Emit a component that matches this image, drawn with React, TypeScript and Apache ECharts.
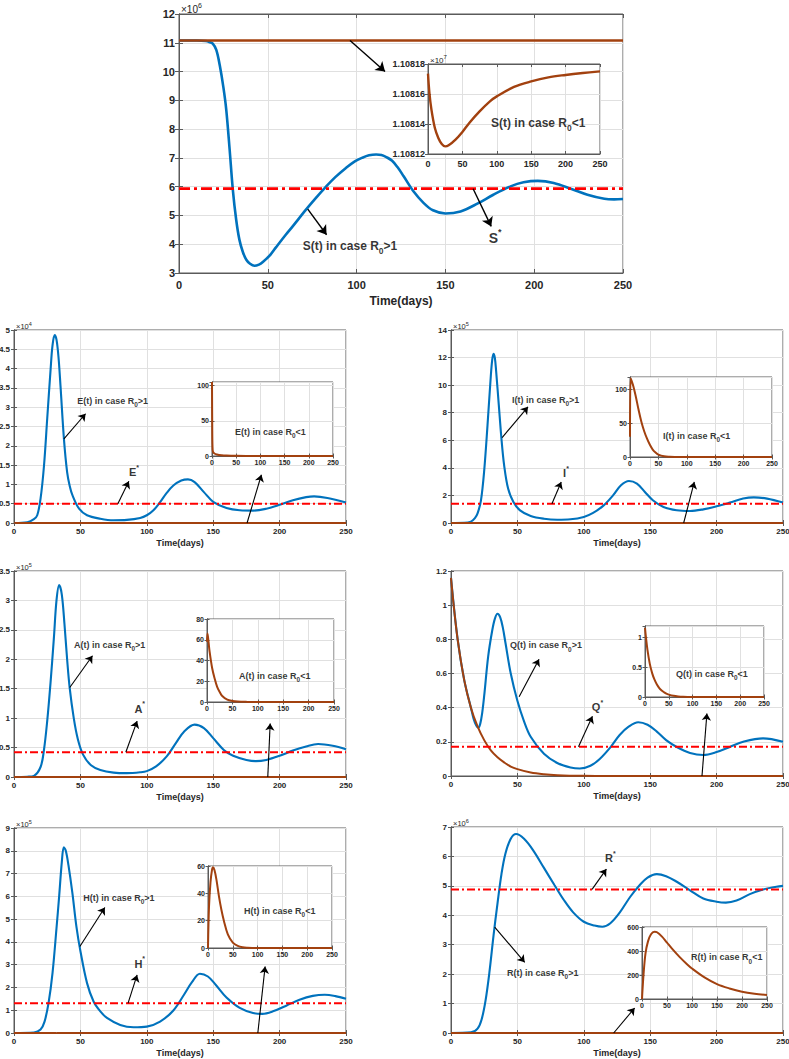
import React, { useEffect, useRef } from "react";
import * as echarts from "echarts";

type Pt = [number, number];

// ---------------- data ----------------
const dayTicks = [0, 50, 100, 150, 200, 250];

// S(t)
const sHigh: Pt[] = [[0, 11.08e6], [10, 11.078e6], [15, 11.06e6], [17, 11.03e6], [19, 10.97e6], [21, 10.75e6], [23, 10.2e6], [25, 9.45e6], [26.6, 8.68e6], [28.5, 7.3e6], [30.3, 5.9e6], [32.2, 4.85e6], [34, 4.16e6], [36, 3.72e6], [38, 3.45e6], [40, 3.32e6], [42.5, 3.25e6], [45, 3.29e6], [47.2, 3.38e6], [51, 3.6e6], [54.7, 3.9e6], [60, 4.32e6], [64, 4.62e6], [71.5, 5.2e6], [77, 5.6e6], [82.8, 6.0e6], [88, 6.33e6], [94, 6.65e6], [99, 6.88e6], [103, 7.0e6], [107, 7.09e6], [111, 7.12e6], [114, 7.1e6], [117, 7.02e6], [120, 6.9e6], [123, 6.68e6], [126.5, 6.36e6], [132, 5.84e6], [137.8, 5.43e6], [143, 5.18e6], [150, 5.07e6], [158.5, 5.14e6], [168, 5.41e6], [177, 5.72e6], [186.7, 6.01e6], [194, 6.15e6], [202, 6.2e6], [211, 6.13e6], [221, 5.92e6], [230, 5.72e6], [239.5, 5.58e6], [245, 5.56e6], [250, 5.57e6]];
const sLow: Pt[] = [[0, 11081736], [2, 11081610], [5, 11081496], [10, 11081373], [15, 11081307], [20, 11081267], [25, 11081251], [30, 11081258], [40, 11081296], [50, 11081347], [60, 11081407], [75, 11081484], [90, 11081551], [100, 11081584], [125, 11081647], [150, 11081684], [175, 11081711], [200, 11081727], [225, 11081740], [250, 11081751]];
const sStar = 5.93e6;

// E(t)
const eHigh: Pt[] = [[0, 0], [10, 200], [15, 1000], [17.5, 2000], [20, 6300], [22.6, 14900], [25, 27000], [27.6, 40000], [29, 46000], [30.6, 48700], [32, 47500], [33.5, 43000], [35, 35600], [37.6, 21800], [40, 13200], [42, 9500], [44, 7200], [49, 3700], [55, 2000], [65, 1100], [75, 700], [85, 800], [95, 1300], [100, 2000], [105, 3300], [110, 5400], [115, 7800], [120, 9700], [126, 11000], [131, 11300], [136, 10600], [143, 8000], [150, 5500], [160, 3900], [170, 3300], [180, 3200], [190, 3700], [200, 4700], [210, 5900], [220, 6700], [226, 6900], [236, 6500], [250, 5300]];
const eLow: Pt[] = [[0, 105], [0.5, 40], [1, 15], [2, 6], [5, 3.5], [10, 2.2], [20, 1.1], [30, 0.6], [50, 0.2], [75, 0.05], [100, 0], [250, 0]];
const eStar = 5000;

// I(t)
const iHigh: Pt[] = [[0, 0], [10, 1000], [15, 10000], [18, 35000], [20, 70000], [22.5, 160000], [25, 380000], [27.5, 710000], [30, 1070000], [31, 1180000], [32, 1228000], [33, 1200000], [34, 1100000], [36, 855000], [38, 610000], [40, 420000], [43, 250000], [47, 153000], [52, 92000], [60, 51000], [70, 31000], [80, 24000], [90, 27000], [100, 44000], [107, 73000], [115, 128000], [122, 200000], [128, 274000], [134, 305000], [140, 286000], [146, 225000], [152, 165000], [160, 116000], [170, 92000], [180, 87000], [190, 99000], [200, 121000], [210, 148000], [220, 177000], [228, 186000], [238, 177000], [250, 148000]];
const iLow: Pt[] = [[0, 30], [1, 116], [3, 112], [6, 104], [10, 90], [15, 70], [20, 52], [25, 38], [30, 27], [35, 18], [40, 11], [45, 6.5], [50, 3.5], [60, 1], [70, 0.3], [80, 0.1], [100, 0], [250, 0]];
const iStar = 140000;

// A(t)
const aHigh: Pt[] = [[0, 0], [10, 500], [15, 2000], [20, 17000], [22.5, 45000], [25, 95000], [27.5, 160000], [30, 235000], [32, 300000], [34, 326000], [36, 310000], [38, 260000], [40, 200000], [42, 150000], [45, 100000], [48, 65000], [52, 38000], [58, 20000], [65, 12000], [75, 7500], [85, 6500], [95, 8000], [100, 10000], [107, 18000], [115, 35000], [122, 58000], [128, 77000], [136, 89000], [143, 83000], [150, 66000], [158, 46000], [165, 36000], [175, 29000], [182, 27000], [190, 29000], [200, 36000], [210, 45000], [220, 52000], [229, 56000], [240, 53000], [250, 47000]];
const aLow: Pt[] = [[0, 58], [1, 66], [3, 58], [5, 49], [10, 33], [15, 22.7], [20, 14.6], [25, 9.7], [30, 5.8], [40, 2.3], [50, 1], [60, 0.4], [80, 0.1], [100, 0], [250, 0]];
const aStar = 42000;

// Q(t)
const qHigh: Pt[] = [[0, 1.16], [5, 0.8], [10, 0.56], [15, 0.4], [17, 0.335], [19, 0.295], [20.5, 0.283], [22, 0.305], [23.5, 0.37], [25, 0.47], [28, 0.7], [31, 0.85], [33, 0.92], [35, 0.95], [37, 0.93], [39, 0.87], [41, 0.78], [45, 0.6], [50, 0.44], [55, 0.32], [60, 0.23], [70, 0.13], [80, 0.076], [90, 0.05], [97, 0.044], [105, 0.06], [112, 0.1], [120, 0.168], [127, 0.24], [134, 0.29], [141, 0.315], [148, 0.3], [155, 0.26], [162, 0.21], [170, 0.17], [180, 0.135], [190, 0.123], [200, 0.14], [210, 0.17], [220, 0.2], [235, 0.22], [250, 0.2]];
const qLow: Pt[] = [[0, 1.16], [2, 1.0], [5, 0.8], [10, 0.56], [15, 0.4], [20, 0.29], [25, 0.21], [30, 0.15], [35, 0.11], [40, 0.08], [45, 0.055], [50, 0.04], [60, 0.02], [70, 0.01], [80, 0.005], [100, 0.001], [120, 0], [250, 0]];
const qStar = 0.171;

// H(t)
const hHigh: Pt[] = [[0, 0], [15, 2000], [20, 15000], [23, 50000], [26, 131000], [29, 263000], [32, 460000], [34, 600000], [36, 750000], [37.5, 815000], [39, 800000], [41, 737000], [44, 613000], [47, 467000], [50, 360000], [55, 219000], [60, 137000], [65, 95000], [70, 66000], [80, 35000], [90, 25000], [100, 28000], [110, 50000], [120, 99000], [128, 168000], [134, 223000], [140, 260000], [146, 248000], [152, 211000], [160, 156000], [170, 110000], [180, 87500], [187, 84000], [195, 95000], [205, 120000], [215, 146000], [225, 163000], [234, 168000], [242, 162000], [250, 150000]];
const hLow: Pt[] = [[0, 0], [2, 30], [5, 48], [8, 57], [10, 59], [13, 57], [17, 50], [22, 38], [27, 28], [32, 20], [40, 10], [50, 4], [60, 1.5], [70, 0.5], [80, 0.2], [100, 0], [250, 0]];
const hStar = 131000;

// R(t)
const rHigh: Pt[] = [[0, 0], [15, 0.02e6], [20, 0.15e6], [23, 0.45e6], [26, 1.1e6], [29, 2.09e6], [32, 3.3e6], [35, 4.4e6], [38, 5.4e6], [41, 6.1e6], [45, 6.6e6], [49, 6.76e6], [55, 6.6e6], [62, 6.2e6], [70, 5.61e6], [78, 5.02e6], [85, 4.52e6], [92, 4.1e6], [100, 3.78e6], [108, 3.65e6], [114, 3.61e6], [120, 3.73e6], [127, 4.09e6], [135, 4.63e6], [142, 5.02e6], [148, 5.28e6], [155, 5.4e6], [162, 5.33e6], [170, 5.14e6], [180, 4.85e6], [190, 4.57e6], [200, 4.46e6], [207, 4.43e6], [215, 4.5e6], [225, 4.72e6], [235, 4.88e6], [245, 4.97e6], [250, 5.0e6]];
const rLow: Pt[] = [[0, 0], [3, 200], [7, 380], [12, 480], [18, 540], [25, 560], [30, 556], [40, 520], [50, 470], [60, 420], [75, 351], [90, 290], [100, 254], [125, 180], [150, 124], [175, 88], [200, 61], [225, 44], [250, 33]];
const rStar = 4.88e6;

// annotation anchors (data coordinates): arrows [from, to]; notes high / star / low(inset)
const sArrows: [Pt, Pt][] = [[[96.3, 11.08e6], [116, 10.0e6]], [[72.5, 5.22e6], [83.1, 4.33e6]], [[165.6, 5.93e6], [175.8, 4.62e6]]];
const eArrows: [Pt, Pt][] = [[[37.6, 21800], [53.9, 28300]], [[78.2, 5000], [86.5, 10800]], [[175.5, 0], [186.3, 12500]]];
const iArrows: [Pt, Pt][] = [[[38.5, 620000], [58, 843000]], [[76, 140000], [83, 298000]], [[175.2, 0], [183.2, 298000]]];
const aArrows: [Pt, Pt][] = [[[42, 152000], [59.1, 206000]], [[84.2, 42000], [92.7, 95000]], [[191.1, 0], [192.9, 91000]]];
const qArrows: [Pt, Pt][] = [[[51.3, 0.464], [66.3, 0.684]], [[96, 0.171], [106.5, 0.35]], [[189, 0], [192.7, 0.366]]];
const hArrows: [Pt, Pt][] = [[[49.6, 380000], [68.4, 551000]], [[85.9, 131000], [92.7, 255000]], [[183.6, 0], [189.1, 292000]]];
const rArrows: [Pt, Pt][] = [[[32.9, 3.6e6], [55.5, 2.4e6]], [[106.2, 4.88e6], [117, 5.57e6]], [[122.5, 0], [138.3, 0.85e6]]];

const sNotes = { high: [69.7, 3.93e6] as Pt, star: [178, 4.22e6] as Pt, low: [91.6, 11081407] as Pt };
const eNotes = { high: [47.6, 31700] as Pt, star: [90.3, 13200] as Pt, low: [47.5, 34.5] as Pt };
const iNotes = { high: [45.9, 890000] as Pt, star: [86.6, 363000] as Pt, low: [58, 31.4] as Pt };
const aNotes = { high: [45.1, 225000] as Pt, star: [94.7, 116000] as Pt, low: [63, 25.3] as Pt };
const qNotes = { high: [44.5, 0.765] as Pt, star: [110.3, 0.405] as Pt, low: [65, 0.385] as Pt };
const hNotes = { high: [52.1, 594000] as Pt, star: [94.7, 305000] as Pt, low: [72.6, 27.3] as Pt };
const rNotes = { high: [42.2, 2.05e6] as Pt, star: [120, 5.93e6] as Pt, low: [98, 347] as Pt };

// ---------------- styling / layout ----------------
const FONT = "'Liberation Sans', Arial, Helvetica, sans-serif";
const BLUE = "#0072BD";
const BROWN = "#A2410F";
const RED = "#FF0000";
const AXIS = "#5a5a5a";
const GRIDC = "#e0e0e0";
const TXT = "#262626";

type Box = [number, number, number, number];
type YCfg = { min: number; max: number; interval: number; div: number; dec?: number; exp?: string; hideMax?: boolean };

const PANELS = [
  { id: "S", big: true, main: [179, 14, 444, 259] as Box, inset: [428, 64, 172, 90] as Box, high: sHigh, low: sLow, eq: sStar, arrows: sArrows, notes: sNotes,
    y: { min: 3e6, max: 12e6, interval: 1e6, div: 1e6, exp: "6" } as YCfg, iy: { min: 11081200, max: 11081800, interval: 200, div: 1e7, dec: 5, exp: "7" } as YCfg, nameGap: 22 },
  { id: "E", big: false, main: [14, 330, 332, 193] as Box, inset: [212, 382, 121, 74] as Box, high: eHigh, low: eLow, eq: eStar, arrows: eArrows, notes: eNotes,
    y: { min: 0, max: 5e4, interval: 5000, div: 1e4, exp: "4" } as YCfg, iy: { min: 0, max: 105, interval: 50, div: 1, hideMax: true } as YCfg, nameGap: 15 },
  { id: "I", big: false, main: [451, 330, 332, 193] as Box, inset: [630, 377, 142, 80] as Box, high: iHigh, low: iLow, eq: iStar, arrows: iArrows, notes: iNotes,
    y: { min: 0, max: 14e5, interval: 2e5, div: 1e5, exp: "5" } as YCfg, iy: { min: 0, max: 118, interval: 50, div: 1, hideMax: true } as YCfg, nameGap: 15 },
  { id: "A", big: false, main: [14, 571, 332, 206] as Box, inset: [207, 619, 127, 83] as Box, high: aHigh, low: aLow, eq: aStar, arrows: aArrows, notes: aNotes,
    y: { min: 0, max: 3.5e5, interval: 0.5e5, div: 1e5, exp: "5" } as YCfg, iy: { min: 0, max: 80, interval: 20, div: 1 } as YCfg, nameGap: 15 },
  { id: "Q", big: false, main: [451, 571, 332, 205] as Box, inset: [645, 626, 119, 71] as Box, high: qHigh, low: qLow, eq: qStar, arrows: qArrows, notes: qNotes,
    y: { min: 0, max: 1.2, interval: 0.2, div: 1 } as YCfg, iy: { min: 0, max: 1.19, interval: 0.5, div: 1, hideMax: true } as YCfg, nameGap: 15 },
  { id: "H", big: false, main: [14, 828, 332, 205] as Box, inset: [208, 866, 124, 82] as Box, high: hHigh, low: hLow, eq: hStar, arrows: hArrows, notes: hNotes,
    y: { min: 0, max: 9e5, interval: 1e5, div: 1e5, exp: "5" } as YCfg, iy: { min: 0, max: 60, interval: 20, div: 1 } as YCfg, nameGap: 15 },
  { id: "R", big: false, main: [451, 827, 332, 206] as Box, inset: [642, 927, 125, 72] as Box, high: rHigh, low: rLow, eq: rStar, arrows: rArrows, notes: rNotes,
    y: { min: 0, max: 7e6, interval: 1e6, div: 1e6, exp: "6" } as YCfg, iy: { min: 0, max: 600, interval: 200, div: 1 } as YCfg, nameGap: 15 },
];

const BIG = { tick: 11, name: 12, exp: 10, expSup: 7, note: 12, noteSub: 8.5, star: 14, starSup: 9, itick: 9, iexp: 8, iexpSup: 6,
  arrowW: 1.4, arrowSize: 9, tickLen: 4, itickLen: 3, blueW: 2.6, redW: 2.8, brownW: 2.6, ibrownW: 2.4, xMargin: 6, ixMargin: 5 };
const SMALL = { tick: 8, name: 9, exp: 7.5, expSup: 5.5, note: 9, noteSub: 6.5, star: 11, starSup: 7, itick: 7, iexp: 6, iexpSup: 4.5,
  arrowW: 1.1, arrowSize: 7, tickLen: 3, itickLen: 2.5, blueW: 2.1, redW: 2, brownW: 2, ibrownW: 2, xMargin: 4, ixMargin: 3 };

const fmt = (div: number, dec?: number) => (v: number) => {
  const x = v / div;
  return dec != null ? x.toFixed(dec) : String(parseFloat(x.toFixed(4)));
};

function buildOption() {
  const grid: any[] = [];
  const xAxis: any[] = [];
  const yAxis: any[] = [];
  const series: any[] = [];

  const addAxes = (gi: number, y: YCfg, f: any, inset: boolean, xName: string | null, nameGap: number) => {
    const z = inset ? 2 : 0;
    const tickFs = inset ? f.itick : f.tick;
    const tickLen = inset ? f.itickLen : f.tickLen;
    const line = { show: true, lineStyle: { color: AXIS, width: 1 } };
    const tick = { show: true, inside: true, length: tickLen, lineStyle: { color: AXIS, width: 1 } };
    const xi = xAxis.length;
    xAxis.push({
      type: "value", gridIndex: gi, min: 0, max: 250, interval: 50, position: "bottom", z,
      axisLine: line, axisTick: tick,
      axisLabel: { show: true, fontSize: tickFs, fontWeight: "bold", color: TXT, fontFamily: FONT, margin: inset ? f.ixMargin : f.xMargin,
        formatter: (v: number) => (dayTicks.includes(v) ? String(v) : "") },
      splitLine: { show: true, lineStyle: { color: GRIDC, width: 1 } },
      name: xName || "", nameLocation: "middle", nameGap,
      nameTextStyle: { fontSize: f.name, fontWeight: "bold", color: TXT, fontFamily: FONT },
    });
    xAxis.push({
      type: "value", gridIndex: gi, min: 0, max: 250, interval: 50, position: "top", z,
      axisLine: line, axisTick: tick, axisLabel: { show: false }, splitLine: { show: false },
    });
    const yi = yAxis.length;
    const expFs = inset ? f.iexp : f.exp;
    const expSup = inset ? f.iexpSup : f.expSup;
    yAxis.push({
      type: "value", gridIndex: gi, min: y.min, max: y.max, interval: y.interval, position: "left", z,
      axisLine: line, axisTick: tick,
      axisLabel: { show: true, fontSize: tickFs, fontWeight: "bold", color: TXT, fontFamily: FONT, margin: inset ? 3 : 4,
        formatter: fmt(y.div, y.dec), showMaxLabel: !y.hideMax },
      splitLine: { show: true, lineStyle: { color: GRIDC, width: 1 } },
      name: y.exp ? `{x|×10}{p|${y.exp}}` : "", nameLocation: "end", nameGap: 0,
      nameTextStyle: {
        align: "left", verticalAlign: "bottom", padding: [0, 0, 0, 2], color: TXT, fontFamily: FONT,
        rich: {
          x: { fontSize: expFs, color: TXT, fontFamily: FONT, lineHeight: expFs * 1.2, verticalAlign: "bottom" },
          p: { fontSize: expSup, color: TXT, fontFamily: FONT, verticalAlign: "top", lineHeight: expSup },
        },
      },
    });
    yAxis.push({
      type: "value", gridIndex: gi, min: y.min, max: y.max, interval: y.interval, position: "right", z,
      axisLine: line, axisTick: tick, axisLabel: { show: false }, splitLine: { show: false },
    });
    return { xi, yi };
  };

  PANELS.forEach((p) => {
    const f = p.big ? BIG : SMALL;
    const gm = grid.length;
    grid.push({ left: p.main[0], top: p.main[1], width: p.main[2], height: p.main[3], show: true, borderColor: AXIS, borderWidth: 1,
      backgroundColor: "transparent", containLabel: false, outerBoundsMode: "none", z: 0 });
    const m = addAxes(gm, p.y, f, false, "Time(days)", p.nameGap);
    const gi = grid.length;
    grid.push({ left: p.inset[0], top: p.inset[1], width: p.inset[2], height: p.inset[3], show: true, borderColor: AXIS, borderWidth: 1,
      backgroundColor: "#ffffff", containLabel: false, outerBoundsMode: "none", z: 1 });
    const n = addAxes(gi, p.iy, f, true, null, 0);

    const noteRich = {
      t: { fontSize: f.note, fontWeight: "bold", color: "#000", fontFamily: FONT, lineHeight: f.note * 1.6, verticalAlign: "middle" },
      s: { fontSize: f.noteSub, fontWeight: "bold", color: "#000", fontFamily: FONT, verticalAlign: "bottom", lineHeight: f.noteSub },
    };
    const starRich = {
      t: { fontSize: f.star, fontWeight: "bold", color: "#000", fontFamily: FONT, lineHeight: f.star * 1.5, verticalAlign: "middle" },
      p: { fontSize: f.starSup, fontWeight: "bold", color: "#000", fontFamily: FONT, verticalAlign: "top", lineHeight: f.starSup },
    };

    series.push({ type: "line", xAxisIndex: m.xi, yAxisIndex: m.yi, data: p.high, showSymbol: false, smooth: 0.35, z: 2,
      lineStyle: { color: BLUE, width: f.blueW }, silent: true });
    series.push({ type: "line", xAxisIndex: m.xi, yAxisIndex: m.yi, data: p.low, showSymbol: false, smooth: 0.35, z: 3,
      lineStyle: { color: BROWN, width: f.brownW }, silent: true });
    series.push({
      type: "line", xAxisIndex: m.xi, yAxisIndex: m.yi, data: [[0, p.eq], [250, p.eq]], showSymbol: false, z: 4, silent: true,
      lineStyle: { color: RED, width: f.redW, type: p.big ? [11, 4, 3, 4] : [8, 3, 2, 3] },
      markLine: {
        silent: true, symbol: ["none", "arrow"], symbolSize: f.arrowSize, label: { show: false },
        lineStyle: { color: "#000", width: f.arrowW, type: "solid" },
        data: p.arrows.map(([a, b]) => [{ coord: a }, { coord: b }]),
      },
    });
    series.push({
      type: "scatter", xAxisIndex: m.xi, yAxisIndex: m.yi, symbolSize: 0, z: 5, silent: true,
      data: [
        { value: p.notes.high, label: { show: true, position: "right", distance: 0, formatter: `{t|${p.id}(t) in case R}{s|0}{t|>1}`, rich: noteRich } },
        { value: p.notes.star, label: { show: true, position: "inside", formatter: `{t|${p.id}}{p|*}`, rich: starRich } },
      ],
    });
    series.push({ type: "line", xAxisIndex: n.xi, yAxisIndex: n.yi, data: p.low, showSymbol: false, smooth: 0.35, z: 3,
      lineStyle: { color: BROWN, width: f.ibrownW }, silent: true });
    series.push({
      type: "scatter", xAxisIndex: n.xi, yAxisIndex: n.yi, symbolSize: 0, z: 6, silent: true,
      data: [{ value: p.notes.low, label: { show: true, position: "right", distance: 0, formatter: `{t|${p.id}(t) in case R}{s|0}{t|<1}`, rich: noteRich } }],
    });
  });

  return {
    animation: false,
    backgroundColor: "#ffffff",
    textStyle: { fontFamily: FONT },
    grid, xAxis, yAxis, series,
  };
}

export default function App() {
  const ref = useRef<HTMLDivElement>(null);
  useEffect(() => {
    document.body.style.margin = "0";
    const chart = echarts.init(ref.current!, null, { renderer: "svg" });
    chart.setOption(buildOption() as any);
    return () => chart.dispose();
  }, []);
  return <div ref={ref} style={{ position: "absolute", left: 0, top: 0, width: 789, height: 1059 }} />;
}
